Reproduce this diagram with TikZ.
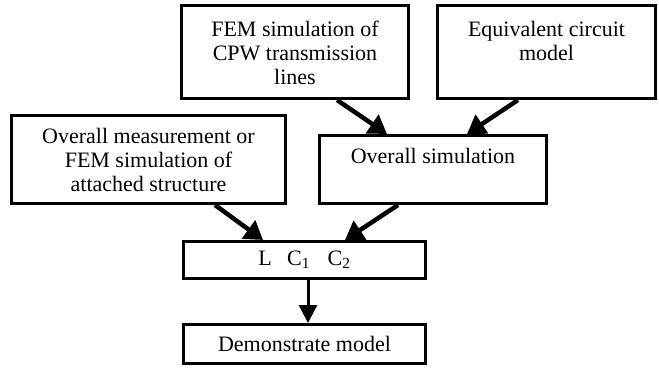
\documentclass[tikz,border=0pt]{standalone}
\usepackage{fontspec}
\setmainfont{Liberation Serif}
\usetikzlibrary{arrows.meta, positioning}

\begin{document}
\begin{tikzpicture}[x=1pt,y=-1pt, every node/.style={font=\fontsize{22}{24}\selectfont},
    box/.style={draw, rectangle, line width=3pt, inner sep=0pt},
    txt/.style={align=center, inner sep=0pt},
    flow/.style={-{Triangle[length=18pt,width=22pt]}, line width=4.5pt}]
    \useasboundingbox (0,0) rectangle (659,369);
    \node[box, minimum width=227pt, minimum height=93pt] (fem) at (295,52) {};
    \node[box, minimum width=218pt, minimum height=93pt] (eq) at (546.5,52) {};
    \node[box, minimum width=274pt, minimum height=88pt] (ms) at (148.5,159.5) {};
    \node[box, minimum width=227pt, minimum height=68pt] (sim) at (433,169.5) {};
    \node[box, minimum width=242pt, minimum height=37pt] (lc) at (304.5,260) {\raisebox{-2pt}{L\hspace{0.7em}C\textsubscript{1}\hspace{0.8em}C\textsubscript{2}}};
    \node[box, minimum width=242pt, minimum height=39pt] (dm) at (304.5,344) {Demonstrate model};
    \node[txt, below=17pt of fem.north] (femt) {FEM simulation of\\CPW transmission\\lines};
    \node[txt, below=17pt of eq.north] (eqt) {Equivalent circuit\\model};
    \node[txt, below=14pt of ms.north] (mst) {Overall measurement or\\FEM simulation of\\attached structure};
    \node[txt, below=14pt of sim.north] (simt) {Overall simulation};
    \draw[flow] ([xshift=42pt]fem.south) -- ([xshift=-46pt]sim.north);
    \draw[flow] ([xshift=-28.5pt]eq.south) -- ([xshift=34pt]sim.north);
    \draw[flow] ([xshift=66.5pt]ms.south) -- ([xshift=-41.5pt]lc.north);
    \draw[flow] ([xshift=-35pt]sim.south) -- ([xshift=40.5pt]lc.north);
    \draw[-{Triangle[length=18pt,width=18pt]}, line width=3pt] ([xshift=3.5pt]lc.south) -- ([xshift=3.5pt]dm.north);
\end{tikzpicture}
\end{document}
